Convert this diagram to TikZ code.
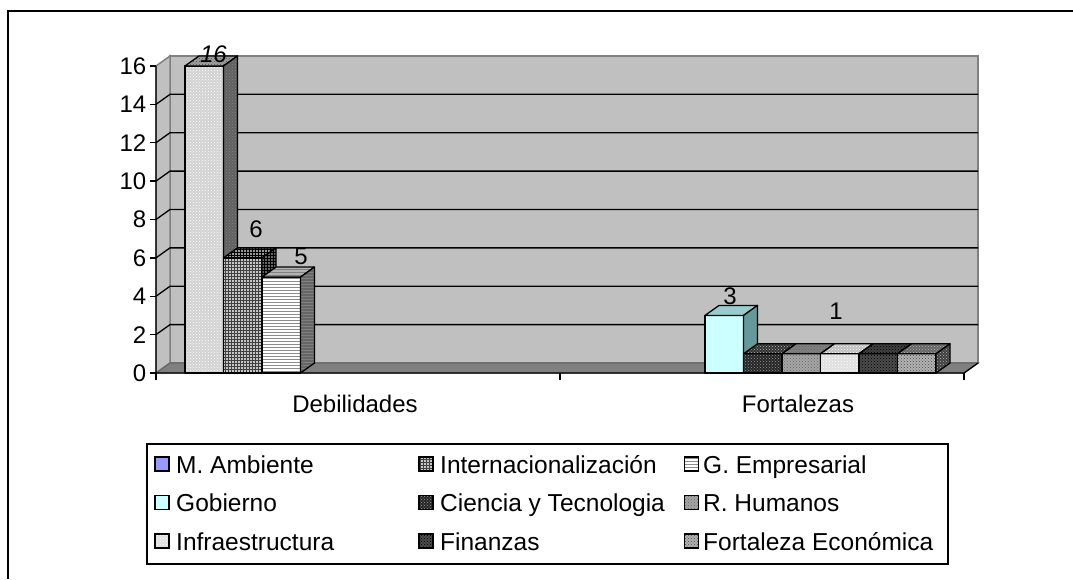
\documentclass[tikz,border=0pt]{standalone}
\usepackage{fontspec}
\setmainfont{Liberation Sans}
\usetikzlibrary{patterns}
\definecolor{wallgray}{HTML}{C0C0C0}
\definecolor{floorgray}{HTML}{808080}
\definecolor{mamb}{HTML}{9999FF}
\definecolor{gobF}{HTML}{CCFFFF}
\definecolor{gobT}{HTML}{99CCCC}
\definecolor{gobS}{HTML}{669999}
\tikzset{
  lbl/.style={font=\fontsize{24}{28}\selectfont, inner sep=0pt},
  legtxt/.style={font=\fontsize{24.5}{28}\selectfont, inner sep=0pt, anchor=base west},
  barface/.style={draw=black, line width=1.3pt, line join=round},
  swatch/.style={rectangle, draw=black, line width=1.3pt, minimum size=14pt, inner sep=0pt},
  gridln/.style={black, line width=1.3pt},
  % M. Ambiente bar (16)
  aF/.style={preaction={fill=gray!35}, pattern=crosshatch dots, pattern color=white},
  aT/.style={preaction={fill=gray!75}, pattern=crosshatch dots, pattern color=black!70},
  aS/.style={preaction={fill=black!62}, pattern=crosshatch dots, pattern color=gray},
  % Internacionalizacion (6)
  bF/.style={preaction={fill=gray!45}, pattern=grid, pattern color=black!75},
  bT/.style={preaction={fill=gray!80}, pattern=grid, pattern color=black},
  bS/.style={preaction={fill=black!60}, pattern=grid, pattern color=black},
  % G. Empresarial (5)
  cF/.style={preaction={fill=white}, pattern=horizontal lines, pattern color=gray!90},
  cT/.style={preaction={fill=gray!60}, pattern=horizontal lines, pattern color=gray},
  cS/.style={preaction={fill=black!60}, pattern=horizontal lines, pattern color=gray},
  % Gobierno
  dF/.style={fill=gobF}, dT/.style={fill=gobT}, dS/.style={fill=gobS},
  % Ciencia y Tecnologia
  eF/.style={preaction={fill=black!85}, pattern=crosshatch dots, pattern color=gray!80},
  eT/.style={preaction={fill=black!80}, pattern=crosshatch dots, pattern color=gray!60},
  eS/.style={preaction={fill=black!90}, pattern=crosshatch dots, pattern color=gray!60},
  % R. Humanos
  fF/.style={preaction={fill=gray!70}, pattern=crosshatch dots, pattern color=black!60},
  fT/.style={preaction={fill=gray}, pattern=crosshatch dots, pattern color=black!60},
  fS/.style={preaction={fill=black!65}, pattern=crosshatch dots, pattern color=black},
  % Infraestructura
  gF/.style={preaction={fill=gray!25}, pattern=crosshatch dots, pattern color=white},
  gT/.style={preaction={fill=gray!50}, pattern=crosshatch dots, pattern color=white},
  gS/.style={preaction={fill=gray}, pattern=crosshatch dots, pattern color=black!60},
  % Finanzas
  hF/.style={preaction={fill=black!70}, pattern=crosshatch dots, pattern color=black},
  hT/.style={preaction={fill=black!75}, pattern=crosshatch dots, pattern color=black},
  hS/.style={preaction={fill=black!85}, pattern=crosshatch dots, pattern color=black},
  % Fortaleza Economica
  iF/.style={preaction={fill=gray!60}, pattern=crosshatch dots, pattern color=black!70},
  iT/.style={preaction={fill=black!60}, pattern=crosshatch dots, pattern color=gray!60},
  iS/.style={preaction={fill=black!75}, pattern=crosshatch dots, pattern color=gray!60},
}
\newcommand\drawbar[5]{%
  \pgfmathsetmacro\ytop{373-19.19*#2}%
  \pgfmathsetmacro\ybk{\ytop-10}%
  \pgfmathsetmacro\xr{#1+38.5}%
  \pgfmathsetmacro\xrb{#1+52.5}%
  \pgfmathsetmacro\xlb{#1+14}%
  \path[barface,#3] (#1,\ytop) rectangle (\xr,373);
  \path[barface,#4] (#1,\ytop) -- (\xr,\ytop) -- (\xrb,\ybk) -- (\xlb,\ybk) -- cycle;
  \path[barface,#5] (\xr,\ytop) -- (\xrb,\ybk) -- (\xrb,363) -- (\xr,373) -- cycle;
}
\begin{document}
\begin{tikzpicture}[x=1pt,y={(0pt,-1pt)}]
\useasboundingbox (0,0) rectangle (1073,579);
\fill[white] (0,0) rectangle (1073,579);
% outer frame
\draw[line width=1.5pt] (8,579) -- (8,11) -- (1073,11);
% walls and floor
\filldraw[fill=wallgray, draw=floorgray, line width=1.5pt] (170,56) rectangle (978,363);
\filldraw[fill=wallgray, draw=floorgray, line width=1.5pt] (156,66) -- (170,56) -- (170,363) -- (156,373) -- cycle;
\filldraw[fill=floorgray, draw=black!60, line width=1.2pt] (156,373) -- (170,363) -- (978,363) -- (964,373) -- cycle;
% gridlines and value axis
\foreach \v in {2,4,...,14} {
  \pgfmathsetmacro\yy{373-19.19*\v}
  \draw[gridln] (156,\yy) -- (170,\yy-10) -- (978,\yy-10);
}
\foreach \v in {0,2,...,16} {
  \pgfmathsetmacro\yy{373-19.19*\v}
  \draw[gridln] (150,\yy) -- (156,\yy);
  \node[lbl, anchor=east] (tick\v) at (146.5,\yy) {\v};
}
\draw[gridln] (156,65.9) -- (156,373) -- (964,373) -- (978,363);
\foreach \x in {156,560,964} { \draw[gridln] (\x,373) -- (\x,380); }
% bars: Debilidades
\drawbar{185}{16}{aF}{aT}{aS}
\drawbar{223.5}{6}{bF}{bT}{bS}
\drawbar{262}{5}{cF}{cT}{cS}
% bars: Fortalezas
\drawbar{705}{3}{dF}{dT}{dS}
\drawbar{743.5}{1}{eF}{eT}{eS}
\drawbar{782}{1}{fF}{fT}{fS}
\drawbar{820.5}{1}{gF}{gT}{gS}
\drawbar{859}{1}{hF}{hT}{hS}
\drawbar{897.5}{1}{iF}{iT}{iS}
% value labels
\node[lbl, font=\fontsize{24}{28}\selectfont\itshape] (v16) at (213.5,54) {16};
\node[lbl] (v6) at (256,229) {6};
\node[lbl] (v5) at (301,256) {5};
\node[lbl] (v3) at (730,296) {3};
\node[lbl] (v1) at (836,311) {1};
% category labels
\node[lbl] (catD) at (355,404) {Debilidades};
\node[lbl] (catF) at (798,404) {Fortalezas};
% legend
\draw[line width=1.5pt, fill=white] (147,444) rectangle (948,564);
\node[swatch, fill=mamb] (s1) at (162,464) {};
\node[legtxt] (l1) at (176,473) {M. Ambiente};
\node[swatch, bF] (s2) at (426,464) {};
\node[legtxt] (l2) at (440,473) {Internacionalización};
\node[swatch, cF] (s3) at (691.5,464) {};
\node[legtxt] (l3) at (703,473) {G. Empresarial};
\node[swatch, dF] (s4) at (162,502.5) {};
\node[legtxt] (l4) at (176,511.5) {Gobierno};
\node[swatch, eF] (s5) at (426,502.5) {};
\node[legtxt] (l5) at (440,511.5) {Ciencia y Tecnologia};
\node[swatch, fF] (s6) at (691.5,502.5) {};
\node[legtxt] (l6) at (703,511.5) {R. Humanos};
\node[swatch, gF] (s7) at (162,541) {};
\node[legtxt] (l7) at (176,550) {Infraestructura};
\node[swatch, hF] (s8) at (426,541) {};
\node[legtxt] (l8) at (440,550) {Finanzas};
\node[swatch, iF] (s9) at (691.5,541) {};
\node[legtxt] (l9) at (703,550) {Fortaleza Económica};
\end{tikzpicture}
\end{document}
